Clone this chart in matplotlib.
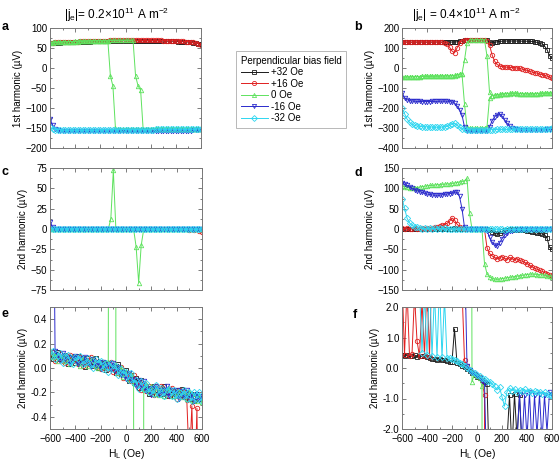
import numpy as np
import matplotlib
matplotlib.use("Agg")
import matplotlib.pyplot as plt
from matplotlib.lines import Line2D
from matplotlib.ticker import AutoMinorLocator

plt.rcParams['font.family'] = ['Liberation Sans', 'DejaVu Sans']
plt.rcParams['mathtext.fontset'] = 'custom'
plt.rcParams['mathtext.rm'] = 'Liberation Sans'
plt.rcParams['mathtext.it'] = 'Liberation Sans:italic'
plt.rcParams['mathtext.bf'] = 'Liberation Sans:bold'

# field sweep grid, Oe
H = np.arange(-600, 601, 20)

labels = ['+32 Oe', '+16 Oe', '0 Oe', '-16 Oe', '-32 Oe']
colors = ['#1a1a1a', '#e02020', '#5ee25e', '#2a2acc', '#2ed6f0']
markers = ['s', 'o', '^', 'v', 'D']

# ---- panel a: 1st harmonic, |je| = 0.2e11
a_black = [62, 62, 63, 63, 63, 64, 64, 64, 65, 65,
           65, 65, 66, 66, 66, 66, 66, 67, 67, 67,
           67, 67, 67, 67, 68, 68, 68, 68, 68, 68,
           68, 68, 68, 68, 68, 68, 68, 68, 68, 68,
           68, 68, 68, 68, 68, 67, 67, 67, 67, 67,
           67, 66, 66, 66, 65, 65, 64, 63, 62, 61, 60]
a_red = [63, 63, 64, 64, 64, 65, 65, 65, 66, 66,
         66, 66, 67, 67, 67, 67, 67, 68, 68, 68,
         68, 68, 68, 68, 69, 69, 69, 69, 69, 69,
         69, 69, 69, 69, 69, 69, 69, 69, 69, 69,
         69, 69, 69, 69, 69, 68, 68, 68, 68, 68,
         68, 67, 67, 67, 66, 66, 65, 64, 63, 61, 57]
a_green_up = [63, 63, 64, 64, 64, 65, 65, 65, 66, 66,
              66, 66, 67, 67, 67, 67, 67, 68, 68, 68,
              68, 68, 68, 68, 69, 69, 69, 69, 69, 69,
              69, 69, 69, 69, -20, -45, -55, -152, -153, -153,
              -153, -153, -153, -153, -153, -153, -153, -153, -153, -153,
              -153, -153, -153, -153, -153, -153, -153, -153, -153, -153, -153]
a_green_down = [64, 64, 64, 65, 65, 65, 66, 66, 66, 66,
                67, 67, 67, 67, 67, 68, 68, 68, 68, 68,
                68, 68, 68, 67, -20, -45, -150, -153, -153, -153,
                -153, -153, -153, -153, -153, -153, -153, -153, -153, -153,
                -153, -153, -153, -153, -153, -153, -153, -153, -153, -153,
                -153, -153, -153, -153, -153, -153, -153, -153, -153, -153, -153]
a_blue = [-127, -142, -152, -156, -157, -158, -158, -158, -158, -158,
          -158, -158, -158, -158, -158, -158, -158, -158, -158, -158,
          -158, -158, -158, -158, -158, -158, -158, -158, -158, -158,
          -158, -158, -158, -158, -158, -158, -158, -158, -158, -158,
          -158, -158, -158, -158, -158, -157, -157, -157, -157, -157,
          -157, -157, -157, -157, -157, -157, -157, -156, -156, -156, -156]
a_cyan = [-148, -152, -154, -154, -154, -155, -155, -155, -155, -155,
          -155, -155, -155, -155, -155, -155, -155, -155, -155, -155,
          -154, -154, -154, -154, -154, -154, -154, -154, -154, -154,
          -154, -154, -154, -154, -154, -154, -154, -154, -154, -154,
          -154, -154, -153, -153, -153, -153, -153, -153, -153, -153,
          -153, -153, -153, -153, -153, -153, -153, -153, -152, -152, -152]

# ---- panel b: 1st harmonic, |je| = 0.4e11
b_black = [129, 129, 130, 129, 129, 130, 129, 129, 130, 129,
           129, 130, 129, 129, 130, 129, 129, 130, 129, 129,
           130, 130, 131, 133, 136, 139, 141, 141, 141, 141,
           141, 141, 141, 141, 138, 130, 126, 128, 131, 133,
           134, 135, 135, 135, 135, 135, 135, 135, 134, 134,
           134, 133, 133, 131, 128, 124, 120, 110, 92, 62, 50]
b_red = [128, 128, 129, 129, 129, 130, 130, 130, 130, 130,
         130, 130, 130, 130, 130, 130, 129, 127, 120, 104,
         85, 76, 100, 125, 136, 140, 141, 141, 141, 141,
         141, 141, 141, 141, 135, 115, 67, 35, 18, 10,
         7, 5, 4, 3, 2, 1, 0, -2, -5, -8,
         -12, -16, -20, -23, -26, -30, -33, -37, -40, -45, -50]
b_green_up = [-46, -45, -45, -44, -44, -43, -43, -43, -42, -42,
              -42, -42, -41, -41, -41, -41, -40, -40, -40, -40,
              -39, -38, -36, -32, -28, 40, 125, 140, 141, 141,
              141, 141, 141, 141, 60, -120, -138, -136, -134, -132,
              -130, -129, -128, -127, -127, -127, -128, -128, -129, -129,
              -130, -130, -129, -129, -128, -128, -127, -127, -126, -125, -125]
b_green_down = [-47, -46, -45, -45, -44, -44, -43, -43, -42, -42,
                -42, -41, -41, -41, -41, -40, -40, -40, -39, -39,
                -38, -37, -35, -31, -30, -180, -295, -300, -301, -301,
                -301, -301, -300, -299, -295, -150, -139, -137, -135, -133,
                -131, -129, -128, -128, -127, -127, -127, -128, -128, -129,
                -129, -130, -130, -129, -128, -127, -127, -126, -126, -125, -124]
b_blue = [-125, -148, -158, -163, -165, -166, -167, -167, -168, -168,
          -168, -168, -167, -167, -167, -166, -166, -166, -166, -168,
          -170, -175, -190, -208, -235, -295, -316, -317, -317, -317,
          -317, -317, -317, -317, -315, -295, -265, -245, -233, -231,
          -240, -258, -276, -290, -300, -305, -307, -308, -308, -308,
          -309, -309, -309, -308, -308, -308, -308, -308, -307, -307, -306]
b_cyan = [-200, -228, -255, -272, -282, -287, -290, -292, -293, -294,
          -294, -295, -295, -296, -296, -296, -295, -294, -292, -287,
          -280, -276, -285, -296, -303, -307, -308, -308, -309, -309,
          -309, -309, -309, -309, -309, -308, -308, -308, -307, -307,
          -307, -307, -307, -307, -307, -306, -306, -306, -306, -306,
          -306, -306, -305, -305, -305, -305, -304, -304, -304, -303, -302]

# ---- panels c / e: 2nd harmonic, |je| = 0.2e11 (same data, two y ranges)
ce_black = [0.13, 0.07, 0.11, 0.13, 0.07, 0.08, 0.11, 0.03, 0.08, 0.09,
            0.04, 0.10, 0.05, 0.08, 0.01, 0.08, 0.05, 0.02, 0.08, 0.00,
            0.04, 0.04, -0.02, 0.04, 0.00, 0.02, -0.04, 0.03, -0.05, -0.03,
            -0.02, -0.11, -0.06, -0.11, -0.08, -0.16, -0.10, -0.17, -0.15, -0.21,
            -0.16, -0.15, -0.21, -0.18, -0.21, -0.15, -0.23, -0.18, -0.20, -0.23,
            -0.18, -0.22, -0.17, -0.24, -0.21, -0.25, -0.21, -0.27, -0.21, -0.25, -0.23]
ce_red = [0.09, 0.13, 0.06, 0.10, 0.12, 0.06, 0.04, 0.09, 0.11, 0.06,
          0.09, 0.03, 0.09, 0.02, 0.06, 0.03, 0.09, 0.06, 0.01, 0.04,
          -0.01, 0.05, 0.03, -0.01, 0.05, -0.03, 0.00, -0.04, 0.01, -0.08,
          -0.04, -0.05, -0.11, -0.06, -0.13, -0.12, -0.18, -0.12, -0.19, -0.15,
          -0.19, -0.22, -0.15, -0.21, -0.15, -0.20, -0.17, -0.23, -0.16, -0.19,
          -0.25, -0.18, -0.23, -0.20, -0.26, -0.80, -0.31, -1.10, -0.33, -2.0, -3.7]
ce_green = [0.15, 0.09, 0.12, 0.06, 0.10, 0.11, 0.06, 0.08, 0.03, 0.10,
            0.08, 0.04, 0.02, 0.09, 0.07, 0.02, 0.06, 0.08, 0.02, 0.00,
            0.05, 0.01, 0.05, 0.05, 12.0, 72.0, 0.02, -0.04, 0.01, -0.07,
            -0.03, -0.09, -0.05, -0.12, -22.0, -66.0, -20.0, -0.17, -0.13, -0.20,
            -0.15, -0.21, -0.16, -0.22, -0.17, -0.23, -0.18, -0.17, -0.23, -0.19,
            -0.23, -0.18, -0.24, -0.20, -0.25, -0.19, -0.26, -0.21, -0.27, -0.22, -0.28]
ce_blue = [9.0, 2.5, 0.14, 0.11, 0.06, 0.12, 0.07, 0.09, 0.03, 0.08,
           0.10, 0.03, 0.08, 0.04, 0.09, 0.04, 0.01, 0.07, 0.02, 0.05,
           -0.01, 0.05, 0.01, 0.03, -0.02, 0.04, -0.03, 0.01, -0.06, -0.03,
           -0.09, -0.04, -0.10, -0.09, -0.15, -0.10, -0.16, -0.11, -0.19, -0.16,
           -0.22, -0.16, -0.15, -0.22, -0.18, -0.21, -0.15, -0.23, -0.18, -0.21,
           -0.18, -0.25, -0.19, -0.24, -0.18, -0.25, -0.22, -0.27, -0.21, -0.26, -0.23]
ce_cyan = [0.10, 0.14, 0.07, 0.10, 0.12, 0.04, 0.10, 0.11, 0.05, 0.03,
           0.09, 0.07, 0.10, 0.03, 0.04, 0.08, 0.03, 0.00, 0.07, 0.04,
           0.06, -0.01, 0.04, -0.03, 0.04, -0.01, 0.02, -0.06, -0.01, -0.05,
           -0.03, -0.10, -0.04, -0.12, -0.10, -0.17, -0.11, -0.17, -0.12, -0.20,
           -0.17, -0.21, -0.14, -0.21, -0.16, -0.23, -0.18, -0.17, -0.23, -0.18,
           -0.25, -0.20, -0.23, -0.18, -0.25, -0.20, -0.27, -0.20, -0.25, -0.20, -0.27]

# ---- panels d / f: 2nd harmonic, |je| = 0.4e11 (same data, two y ranges)
df_black = [0.42, 0.39, 0.41, 0.38, 0.40, 0.41, 0.37, 0.40, 0.38, 0.39,
            0.36, 0.33, 0.28, 0.30, 0.26, 0.28, 0.25, 0.27, 0.22, 0.20,
            0.21, 1.28, 0.15, 0.12, 0.08, 0.03, -0.04, -0.10, -0.16, -0.22,
            -0.28, -0.34, -0.40, -0.47, -0.53, -3.5, -7.0, -10.0, -12.0, -10.0,
            -6.0, -3.2, -2.4, -0.90, -2.7, -0.85, -2.3, -0.90, -2.6, -3.0,
            -4.0, -5.0, -6.5, -8.0, -9.5, -11.0, -12.0, -14.0, -22.0, -45.0, -50.0]
df_red = [3.0, 0.42, 2.6, 0.40, 0.45, 2.4, 0.90, 0.38, 2.2, 0.40,
          2.8, 0.35, 3.5, 4.5, 6.0, 7.5, 9.0, 11.0, 14.0, 19.0,
          27.0, 22.0, 12.0, 6.0, 2.6, 0.25, 0.05, -0.06, -0.12, -0.19,
          -0.25, -0.31, -0.38, -0.90, -46, -60, -66, -70, -73, -71,
          -68, -72, -75, -70, -73, -76, -73, -77, -79, -82,
          -85, -89, -93, -96, -99, -102, -104, -107, -110, -113, -116]
df_green = [106, 104, 103, 102, 101, 101, 102, 103, 104, 105,
            106, 107, 107, 108, 109, 109, 110, 110, 111, 111,
            112, 113, 114, 116, 117, 118, 125, 40, -0.45, -0.20,
            -0.26, -0.32, -0.60, -85, -110, -118, -121, -123, -124, -123,
            -122, -121, -120, -119, -118, -117, -116, -115, -114, -113,
            -112, -111, -111, -111, -112, -112, -113, -114, -115, -116, -117]
df_blue = [112, 110, 107, 104, 100, 97, 94, 92, 90, 88,
           86, 85, 84, 83, 83, 83, 84, 85, 86, 87,
           88, 90, 91, 80, 50, 4.0, 0.08, -0.08, -0.17, -0.21,
           -0.27, -0.33, -0.41, -0.48, -4.0, -20.0, -32.0, -40.0, -42.0, -34.0,
           -24.0, -15.0, -10.0, -6.0, -4.0, -3.0, -2.4, -0.85, -2.5, -0.90,
           -2.3, -0.80, -2.6, -0.90, -2.2, -0.85, -2.4, -0.90, -2.1, -0.80, -0.90]
df_cyan = [75, 52, 27, 15, 9, 6, 4.0, 2.6, 0.50, 2.4,
           0.42, 3.0, 0.38, 2.5, 0.36, 2.8, 0.35, 2.3, 0.33, 0.32,
           0.30, 0.27, 0.22, 0.17, 0.12, 0.06, 0.00, -0.06, -0.12, -0.17,
           -0.22, -0.27, -0.32, -0.37, -0.41, -0.45, -0.52, -0.60, -0.72, -0.62,
           -0.95, -1.25, -0.78, -0.66, -0.74, -0.68, -0.80, -0.72, -0.76, -0.70,
           -0.78, -0.74, -0.82, -0.76, -0.80, -0.78, -0.84, -0.80, -0.86, -0.90, -0.93]

x_ticks = [-600, -400, -200, 0, 200, 400, 600]


def draw(ax, series):
    # series: list of (values, index into colors/markers)
    for vals, k in series:
        ax.plot(H, vals, color=colors[k], marker=markers[k], ms=3.2,
                mfc='none', mew=0.6, lw=0.7)


def style(ax, ylim, yticks, ylabel, ylabels=None, xlab=False):
    ax.set_xlim(-600, 600)
    ax.set_ylim(*ylim)
    ax.set_xticks(x_ticks)
    ax.set_yticks(yticks)
    if ylabels is not None:
        ax.set_yticklabels(ylabels)
    ax.xaxis.set_minor_locator(AutoMinorLocator(2))
    ax.yaxis.set_minor_locator(AutoMinorLocator(2))
    ax.tick_params(which='both', direction='in', top=True, right=True,
                   labelsize=7, color='#666666', width=0.6, pad=2)
    ax.tick_params(axis='x', pad=3.5)
    ax.tick_params(which='major', length=3)
    ax.tick_params(which='minor', length=1.6)
    for s in ax.spines.values():
        s.set_color('#777777')
        s.set_linewidth(0.7)
    ax.set_ylabel(ylabel, fontsize=7, labelpad=2)
    if xlab:
        ax.set_xlabel(r'H$_\mathrm{L}$ (Oe)', fontsize=7.5, labelpad=2)
    else:
        ax.set_xticklabels([])


fig = plt.figure(figsize=(5.6, 4.63), dpi=100)
W, Hf = 560.0, 463.0


def add_axes(x0, x1, y0, y1):
    return fig.add_axes([x0 / W, 1 - y1 / Hf, (x1 - x0) / W, (y1 - y0) / Hf])


ax_a = add_axes(50, 201, 28, 148)
ax_b = add_axes(402, 552, 28, 148)
ax_c = add_axes(50, 202, 168, 290)
ax_d = add_axes(402, 552, 168, 290)
ax_e = add_axes(50, 202, 307, 429)
ax_f = add_axes(402, 552, 307, 429)

draw(ax_a, [(a_black, 0), (a_red, 1), (a_green_up, 2), (a_green_down, 2),
            (a_blue, 3), (a_cyan, 4)])
draw(ax_b, [(b_black, 0), (b_red, 1), (b_green_up, 2), (b_green_down, 2),
            (b_blue, 3), (b_cyan, 4)])
ce = [(ce_black, 0), (ce_red, 1), (ce_green, 2), (ce_blue, 3), (ce_cyan, 4)]
df = [(df_black, 0), (df_red, 1), (df_green, 2), (df_blue, 3), (df_cyan, 4)]
draw(ax_c, ce)
draw(ax_e, ce)
draw(ax_d, df)
draw(ax_f, df)

style(ax_a, (-200, 100), [-200, -150, -100, -50, 0, 50, 100], u'1st harmonic (\u00b5V)')
style(ax_b, (-400, 200), [-400, -300, -200, -100, 0, 100, 200], u'1st harmonic (\u00b5V)')
style(ax_c, (-75, 75), [-75, -50, -25, 0, 25, 50, 75], u'2nd harmonic (\u00b5V)')
style(ax_d, (-150, 150), [-150, -100, -50, 0, 50, 100, 150], u'2nd harmonic (\u00b5V)')
style(ax_e, (-0.5, 0.5), [-0.4, -0.2, 0.0, 0.2, 0.4], u'2nd harmonic (\u00b5V)',
      ['-0.4', '-0.2', '0.0', '0.2', '0.4'], xlab=True)
style(ax_f, (-2, 2), [-2, -1, 0, 1, 2], u'2nd harmonic (\u00b5V)',
      ['-2.0', '-1.0', '0.0', '1.0', '2.0'], xlab=True)

fig.text(117 / W, 1 - 15 / Hf, r'|j$_\mathrm{e}$|= 0.2$\times$10$^{11}$ A m$^{-2}$',
         ha='center', va='center', fontsize=8.5)
fig.text(466 / W, 1 - 15 / Hf, r'|j$_\mathrm{e}$| = 0.4$\times$10$^{11}$ A m$^{-2}$',
         ha='center', va='center', fontsize=8.5)

for letter, (px, py) in zip('abcdef', [(5, 27), (358, 27), (5, 172),
                                       (358, 173), (5, 314), (355, 315)]):
    fig.text(px / W, 1 - py / Hf, letter, ha='center', va='center',
             fontsize=9, fontweight='bold')

handles = [Line2D([], [], color=colors[k], marker=markers[k], ms=3.0,
                  mfc='none', mew=0.6, lw=0.7) for k in range(5)]
leg = fig.legend(handles, labels, title='Perpendicular bias field',
                 loc='upper left', bbox_to_anchor=(231 / W, 1 - 46 / Hf),
                 fontsize=7, title_fontsize=7, frameon=True, fancybox=False,
                 edgecolor='#999999', handlelength=2.8, handletextpad=0.3,
                 labelspacing=0.15, borderpad=0.5, alignment='left')
leg.get_frame().set_linewidth(0.6)

fig.savefig('out.png', dpi=100)
